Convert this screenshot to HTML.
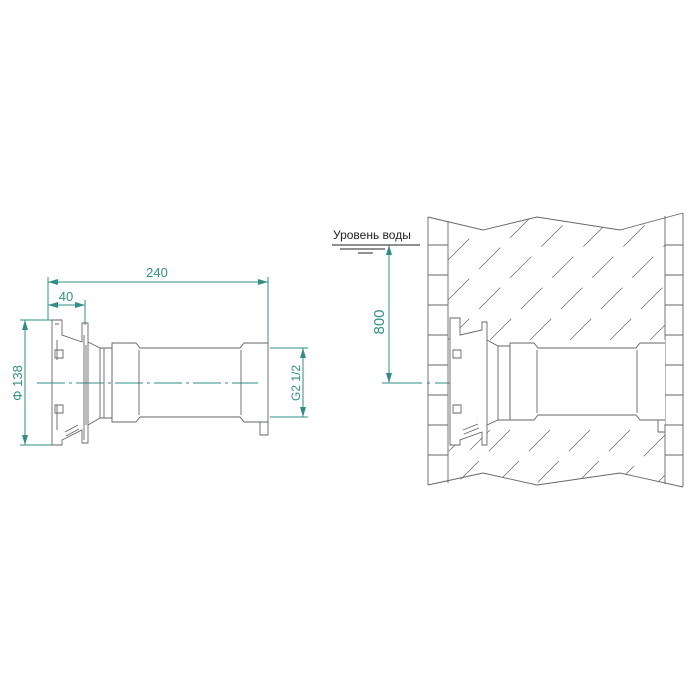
<!DOCTYPE html>
<html><head><meta charset="utf-8"><style>
html,body{margin:0;padding:0;background:#fff}
svg{display:block}
text{font-family:"Liberation Sans","DejaVu Sans",sans-serif}
</style></head><body>
<svg width="700" height="700" viewBox="0 0 700 700" xmlns="http://www.w3.org/2000/svg">
<defs>
<marker id="a" viewBox="0 0 10 6" refX="10" refY="3" markerWidth="10" markerHeight="6" orient="auto-start-reverse" markerUnits="userSpaceOnUse"><path d="M0,0L10,3L0,6z" fill="#2f8f86"/></marker>
<clipPath id="wallc"><path d="M448,221 L483,230 L537,217 L620,230 L665,216 L665,484 L620,473 L537,485 L483,473 L448,483 Z"/></clipPath>
</defs>
<g stroke="#2f8f86" stroke-width="1" fill="none">
<line x1="48" y1="277" x2="48" y2="320"/>
<line x1="268" y1="277" x2="268" y2="345"/>
<line x1="85" y1="300" x2="85" y2="325"/>
<line x1="48" y1="282" x2="268" y2="282" marker-start="url(#a)" marker-end="url(#a)"/>
<line x1="48" y1="305" x2="85" y2="305" marker-start="url(#a)" marker-end="url(#a)"/>
<line x1="20" y1="320" x2="52" y2="320"/>
<line x1="20" y1="445" x2="52" y2="445"/>
<line x1="25" y1="320" x2="25" y2="445" marker-start="url(#a)" marker-end="url(#a)"/>
<line x1="270" y1="348" x2="308" y2="348"/>
<line x1="270" y1="417" x2="308" y2="417"/>
<line x1="303" y1="348" x2="303" y2="417" marker-start="url(#a)" marker-end="url(#a)"/>
<line x1="37" y1="383" x2="258" y2="383" stroke-dasharray="28,4,3,4"/>
<line x1="389" y1="245" x2="389" y2="383" marker-start="url(#a)" marker-end="url(#a)"/>
<line x1="382" y1="383" x2="660" y2="383" stroke-dasharray="40,5,3,5"/>
</g>
<g fill="#2f8f86" font-size="13">
<text x="157" y="277" text-anchor="middle">240</text>
<text x="66" y="301" text-anchor="middle">40</text>
<text transform="translate(22,383) rotate(-90)" text-anchor="middle">Φ 138</text>
<text transform="translate(300,383) rotate(-90)" text-anchor="middle" font-size="12">G2 1/2</text>
<text transform="translate(384,322) rotate(-90)" text-anchor="middle" font-size="15">800</text>
</g>
<g stroke="#666" stroke-width="0.9" fill="none">
<path d="M52,320 L62,320 L62,335 L82,342 L82,323 L88,323 L88,443 L82,443 L82,430 L62,440 L62,445 L52,445 Z"/>
<path d="M55,324 L59,324 M57,340 L57,360 M57,405 L57,430"/>
<path d="M55,350 h8 v8 h-8z M55,405 h8 v8 h-8z"/>
<path d="M65,432 L78,425 M66,436 L79,429"/>
<path d="M84,335 L84,440 M86,345 L86,425"/>
<path d="M88,342 L100,348 L100,418 L88,425"/>
<path d="M100,348 L112,348 L112,418 L100,418 M104,348 L104,418"/>
<path d="M112,343 L136,343 L140,348 L240,348 L244,343 L268,343 L268,422 L244,422 L240,417 L140,417 L136,422 L112,422 Z"/>
<path d="M139,350 L139,415 M241,350 L241,415"/>
<path d="M260,422 L260,435 L268,435 L268,422"/>
</g>
<g stroke="#666" stroke-width="0.9" fill="none">
<path d="M428,217 L483,230 L537,217 L620,230 L683,213"/>
<path d="M428,485 L483,473 L537,485 L620,473 L683,487"/>
<line x1="428" y1="217" x2="428" y2="485"/>
<line x1="448" y1="221" x2="448" y2="483"/>
<line x1="665" y1="216" x2="665" y2="484"/>
<line x1="683" y1="213" x2="683" y2="487"/>
<path d="M428,245h20M428,275h20M428,305h20M428,335h20M428,365h20M428,395h20M428,425h20M428,455h20
M665,245h18M665,275h18M665,305h18M665,335h18M665,365h18M665,395h18M665,425h18M665,455h18"/>
<g clip-path="url(#wallc)" stroke-width="0.7" stroke-dasharray="30,14">
<path d="M448,260 L490,218 M448,300 L530,218 M448,340 L570,218 M490,340 L612,218 M530,340 L652,218 M570,340 L665,245 M610,340 L665,285 M650,340 L665,325
M470,430 L410,490 M510,430 L450,490 M550,430 L490,490 M590,430 L530,490 M630,430 L570,490 M665,435 L610,490 M665,475 L650,490 M490,430 L470,450"/>
</g>
<rect x="487" y="340" width="178" height="84" fill="#fff" stroke="none"/>
<path d="M450,318 L460,318 L460,335 L482,330 L482,322 L487,322 L487,445 L482,445 L482,432 L460,440 L460,445 L450,445 Z" fill="#fff"/>
<path d="M453,350 h8 v8 h-8z M453,405 h8 v8 h-8z M463,430 L478,424 M464,434 L479,428"/>
<path d="M487,340 L498,346 L510,346 L510,420 L498,420 L487,425 M498,346 L498,420"/>
<path d="M510,343 L534,343 L538,348 L636,348 L640,343 L665,343 M665,420 L640,420 L636,415 L538,415 L534,420 L510,420 L510,343"/>
<path d="M537,350 L537,413 M637,350 L637,413 M658,420 L658,432 L665,432"/>
</g>
<text x="333" y="239" font-size="12" fill="#222">Уровень воды</text>
<g stroke="#222" stroke-width="1">
<line x1="332" y1="245" x2="420" y2="245"/>
<line x1="340" y1="249" x2="385" y2="249"/>
<line x1="358" y1="253" x2="373" y2="253"/>
</g>
</svg>
</body></html>
